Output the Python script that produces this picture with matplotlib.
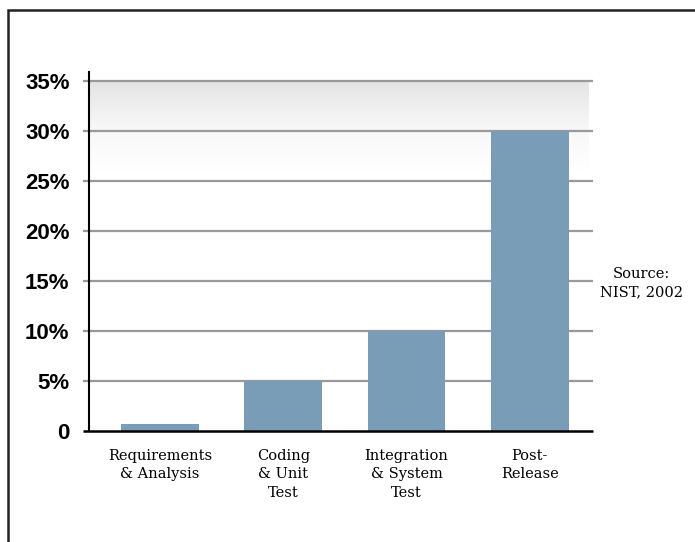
import matplotlib
matplotlib.use("Agg")
import matplotlib.pyplot as plt
import matplotlib.patches as mpatches
import numpy as np
from matplotlib.colors import LinearSegmentedColormap

categories = ["Requirements\n& Analysis", "Coding\n& Unit\nTest", "Integration\n& System\nTest", "Post-\nRelease"]
values = [0.7, 5, 10, 30]
yticks = [0, 5, 10, 15, 20, 25, 30, 35]
ytick_labels = ["0", "5%", "10%", "15%", "20%", "25%", "30%", "35%"]
source_text = "Source:\nNIST, 2002"

fig = plt.figure(figsize=(6.95, 5.42), dpi=100)
ax = fig.add_axes([89/695, (542-431)/542, 500/695, (431-72)/542])

x = np.arange(len(categories))
xmin, xmax = -0.576, 3.48
ax.set_xlim(xmin, xmax)
ax.set_ylim(0, 35.9)

# gradient background
cmap = LinearSegmentedColormap.from_list("g", ["#ffffff", "#f7f7f7", "#e4e4e4"])
grad = np.linspace(0, 1, 256).reshape(-1, 1)
ax.imshow(grad, extent=[xmin, xmax, 26, 35], origin="lower", aspect="auto",
          cmap=cmap, zorder=0, interpolation="bilinear")

# gridlines extending slightly beyond axes
for yv in yticks[1:]:
    ax.plot([-0.012, 1.008], [yv, yv], color="#999999", lw=1.6,
            transform=ax.get_yaxis_transform(), clip_on=False, zorder=1,
            solid_capstyle="butt")

ax.bar(x, values, width=0.63, color="#799db6", zorder=2)

# axis lines
ax.plot([-0.012, 1.008], [0, 0], color="black", lw=1.8,
        transform=ax.get_yaxis_transform(), clip_on=False, zorder=3,
        solid_capstyle="butt")
for s in ["top", "right", "bottom"]:
    ax.spines[s].set_visible(False)
ax.spines["left"].set_linewidth(1.5)
ax.spines["left"].set_color("black")
ax.spines["left"].set_zorder(3)

ax.set_yticks(yticks)
ax.set_yticklabels(ytick_labels, fontfamily="Liberation Sans", fontweight="bold", fontsize=16)
ax.tick_params(axis="y", length=0, pad=14)
ax.set_xticks(x)
ax.set_xticklabels(categories, fontfamily="DejaVu Serif", fontsize=10.5, linespacing=1.4)
ax.tick_params(axis="x", length=0, pad=13)
ax.set_facecolor("none")

fig.text(641/695, 1 - 283/542, source_text, ha="center", va="center",
         fontfamily="DejaVu Serif", fontsize=10.5, linespacing=1.4)

# frame
rect = mpatches.Rectangle((8/695, -0.05), 1.1, 1 - 10/542 + 0.05, transform=fig.transFigure,
                          fill=False, edgecolor="#222222", lw=1.8, clip_on=False)
fig.patches.append(rect)

fig.savefig("out.png", dpi=100)
